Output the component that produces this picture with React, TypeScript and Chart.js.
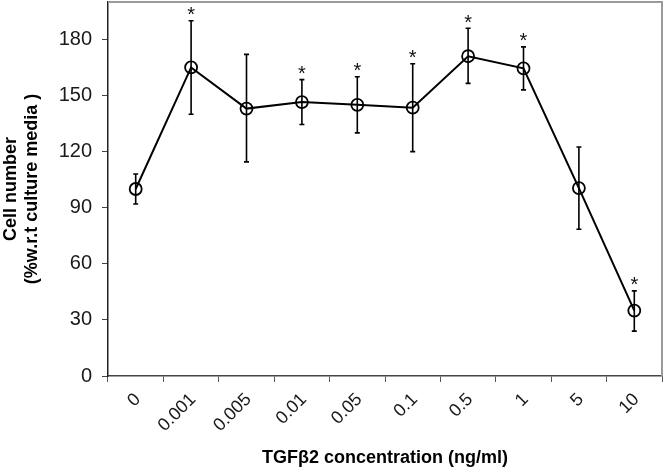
import React, { useEffect, useRef } from "react";
import { Chart, registerables } from "chart.js";

Chart.register(...registerables);

const concentrations = ["0", "0.001", "0.005", "0.01", "0.05", "0.1", "0.5", "1", "5", "10"];
const cellNumber = [100, 165, 143, 146.5, 145, 143.5, 171, 164.5, 100.5, 35];
const errorUpper = [108, 190, 172, 158.5, 160, 167, 186, 176, 122.5, 45.5];
const errorLower = [92, 140, 114.5, 134.5, 130, 120, 156.5, 153, 78.5, 24];
const significant = [false, true, false, true, true, true, true, true, false, true];
const yTicks = [0, 30, 60, 90, 120, 150, 180];

const FONT = "'Liberation Sans', Arial, Helvetica, sans-serif";

const framePlugin = {
  id: "frame",
  beforeDatasetsDraw(chart: any) {
    const { ctx, chartArea } = chart;
    ctx.save();
    ctx.strokeStyle = "#9a9a9a";
    ctx.lineWidth = 2;
    ctx.beginPath();
    ctx.moveTo(chartArea.left, chartArea.top);
    ctx.lineTo(chartArea.right, chartArea.top);
    ctx.lineTo(chartArea.right, chartArea.bottom);
    ctx.stroke();
    ctx.restore();
  },
};

const errorBarPlugin = {
  id: "errorBars",
  afterDatasetsDraw(chart: any) {
    const { ctx } = chart;
    const xs = chart.scales.x;
    const ys = chart.scales.y;
    ctx.save();
    ctx.strokeStyle = "#000";
    ctx.lineWidth = 1.6;
    ctx.fillStyle = "#111";
    ctx.font = `20px ${FONT}`;
    ctx.textAlign = "center";
    ctx.textBaseline = "alphabetic";
    for (let i = 0; i < cellNumber.length; i++) {
      const x = xs.getPixelForValue(i);
      const yt = ys.getPixelForValue(errorUpper[i]);
      const yb = ys.getPixelForValue(errorLower[i]);
      ctx.beginPath();
      ctx.moveTo(x, yt);
      ctx.lineTo(x, yb);
      ctx.moveTo(x - 2.5, yt);
      ctx.lineTo(x + 2.5, yt);
      ctx.moveTo(x - 2.5, yb);
      ctx.lineTo(x + 2.5, yb);
      ctx.stroke();
      if (significant[i]) {
        ctx.fillText("*", x, yt + 0.5);
      }
    }
    ctx.restore();
  },
};

export default function App() {
  const ref = useRef<HTMLCanvasElement | null>(null);

  useEffect(() => {
    if (!ref.current) return;
    const chart = new Chart(ref.current, {
      type: "line",
      data: {
        labels: concentrations,
        datasets: [
          {
            data: cellNumber,
            borderColor: "#000",
            borderWidth: 2,
            pointRadius: 6,
            pointBorderWidth: 1.8,
            pointBorderColor: "#000",
            pointBackgroundColor: "rgba(0,0,0,0)",
            tension: 0,
            clip: false,
          },
        ],
      },
      options: {
        animation: false,
        responsive: false,
        devicePixelRatio: 1,
        layout: { autoPadding: false, padding: { top: 2, right: 2, left: 0, bottom: 0 } },
        plugins: { legend: { display: false }, tooltip: { enabled: false } },
        scales: {
          x: {
            type: "category",
            offset: true,
            grid: { offset: true, drawOnChartArea: false, drawTicks: true, tickLength: 6, color: "#555", lineWidth: 1 },
            border: { color: "#444", width: 1.5 },
            ticks: {
              minRotation: 45,
              maxRotation: 45,
              autoSkip: false,
              padding: 7,
              labelOffset: 2,
              color: "#1a1a1a",
              font: { family: FONT, size: 18 },
            },
            title: {
              display: true,
              text: "TGFβ2 concentration (ng/ml)",
              color: "#000",
              font: { family: FONT, size: 18, weight: "bold" },
              padding: { top: 0, bottom: 6 },
            },
            afterFit(scale: any) {
              scale.height = 99;
              scale.paddingLeft = 0;
              scale.paddingRight = 0;
            },
          },
          y: {
            min: 0,
            max: 200,
            afterBuildTicks(scale: any) {
              scale.ticks = yTicks.map((v) => ({ value: v }));
            },
            grid: { drawOnChartArea: false, drawTicks: true, tickLength: 6, color: "#444", lineWidth: 1 },
            border: { color: "#222", width: 1.5 },
            ticks: {
              padding: 10,
              color: "#1a1a1a",
              font: { family: FONT, size: 20 },
            },
            title: {
              display: true,
              text: ["Cell number", "(%w.r.t culture media )"],
              color: "#000",
              font: { family: FONT, size: 18, weight: "bold" },
              padding: { top: 0, bottom: 0 },
            },
            afterFit(scale: any) {
              scale.width = 108;
              scale.paddingTop = 0;
              scale.paddingBottom = 0;
            },
          },
        },
      },
      plugins: [framePlugin, errorBarPlugin],
    });
    return () => chart.destroy();
  }, []);

  return (
    <div style={{ position: "fixed", left: 0, top: 0, width: 664, height: 475, background: "#fff" }}>
      <canvas ref={ref} width={664} height={475} style={{ width: 664, height: 475, display: "block" }} />
    </div>
  );
}
